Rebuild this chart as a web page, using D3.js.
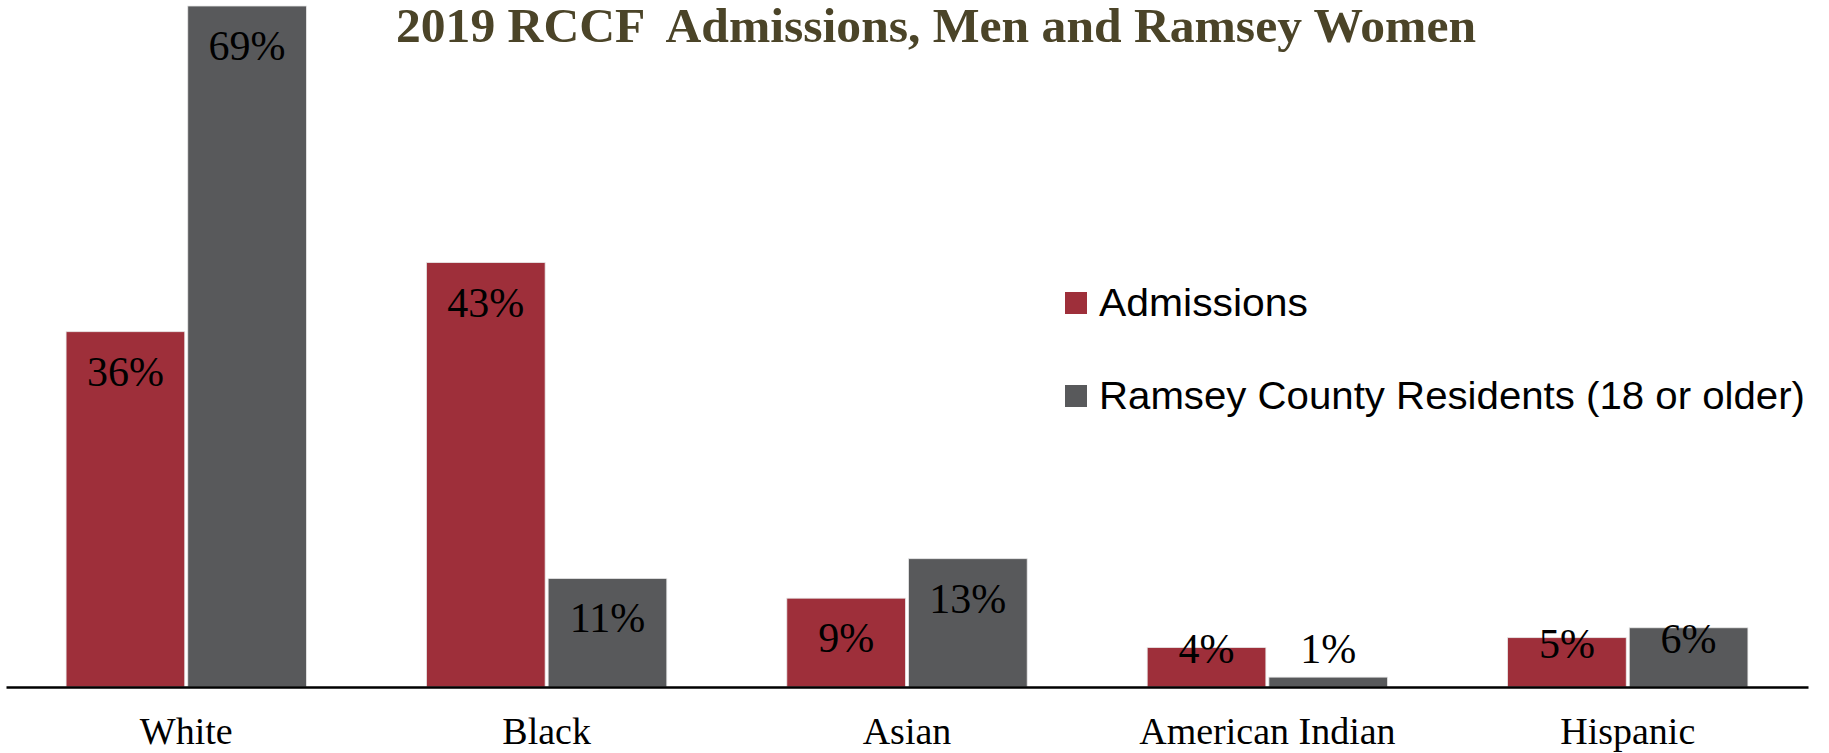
<!DOCTYPE html>
<html>
<head>
<meta charset="utf-8">
<script src="https://cdn.jsdelivr.net/npm/d3@7.9.0/dist/d3.min.js"></script>
<style>
  html, body { margin: 0; padding: 0; background: #fff; }
  svg { display: block; }
</style>
</head>
<body>
<svg id="chart" width="1829" height="753"></svg>
<script>
// chart data
const categories = ['White', 'Black', 'Asian', 'American Indian', 'Hispanic'];
const admissions = [36, 43, 9, 4, 5];
const residents = [69, 11, 13, 1, 6];
const seriesNames = ['Admissions', 'Ramsey County Residents (18 or older)'];
const seriesColors = ['#9e2f3a', '#58595b'];
const titleText = '2019 RCCF  Admissions, Men and Ramsey Women';

const svg = d3.select('#chart');
const baseY = 687;

const x = d3.scaleBand()
    .domain(categories)
    .range([6, 1808])
    .paddingInner(0.333)
    .paddingOuter(0.1667);

const y = d3.scaleLinear()
    .domain([0, 69])
    .range([baseY, 6]);

const gap = 3;
const barW = (x.bandwidth() - gap) / 2;

// flatten rows: one per bar
const rows = [];
categories.forEach((c, i) => {
    rows.push({ cat: c, s: 0, v: admissions[i] });
    rows.push({ cat: c, s: 1, v: residents[i] });
});

const barX = d => x(d.cat) + d.s * (barW + gap);

svg.append('g')
    .selectAll('rect')
    .data(rows)
    .join('rect')
    .attr('x', barX)
    .attr('y', d => y(d.v))
    .attr('width', barW)
    .attr('height', d => baseY - y(d.v))
    .attr('fill', d => seriesColors[d.s])
    .attr('stroke', '#e8e8e8')
    .attr('stroke-width', 0.8);

// axis line (x axis, no ticks)
const xAxis = d3.axisBottom(x).tickSize(0).tickPadding(0);
const axisG = svg.append('g')
    .attr('transform', `translate(0,${baseY})`)
    .call(xAxis);
axisG.select('.domain')
    .attr('stroke', '#000')
    .attr('stroke-width', 2.6);
axisG.selectAll('.tick text')
    .attr('y', 57)
    .attr('dy', 0)
    .attr('fill', '#000')
    .style('font-family', '"Liberation Serif", "DejaVu Serif", serif')
    .style('font-size', '38px');

// data labels: inside end; short bars centred, kept off the axis
function labelY(d) {
    const top = y(d.v);
    if (top + 54 + 22 <= baseY) return top + 54;
    return Math.min((top + baseY) / 2 - 4, baseY - 24);
}

svg.append('g')
    .selectAll('text')
    .data(rows)
    .join('text')
    .attr('x', d => barX(d) + barW / 2)
    .attr('y', labelY)
    .attr('text-anchor', 'middle')
    .attr('fill', '#000')
    .style('font-family', '"Liberation Serif", "DejaVu Serif", serif')
    .style('font-size', '42px')
    .text(d => d.v + '%');

// title
svg.append('text')
    .attr('x', 396)
    .attr('y', 42)
    .attr('textLength', 1080)
    .attr('lengthAdjust', 'spacingAndGlyphs')
    .attr('fill', '#4b4428')
    .style('font-family', '"Liberation Serif", "DejaVu Serif", serif')
    .style('font-weight', 'bold')
    .style('font-size', '48px')
    .style('white-space', 'pre')
    .text(titleText);

// legend
const legendWidths = [209, 706];
const legend = svg.append('g')
    .selectAll('g')
    .data(seriesNames)
    .join('g')
    .attr('transform', (d, i) => `translate(1065,${292 + i * 93})`);

legend.append('rect')
    .attr('width', 22)
    .attr('height', 22)
    .attr('fill', (d, i) => seriesColors[i]);

legend.append('text')
    .attr('x', 34)
    .attr('y', 24)
    .attr('textLength', (d, i) => legendWidths[i])
    .attr('lengthAdjust', 'spacingAndGlyphs')
    .attr('fill', '#000')
    .style('font-family', '"Liberation Sans Narrow", "Liberation Sans", sans-serif')
    .style('font-size', '38px')
    .text(d => d);
</script>
</body>
</html>
